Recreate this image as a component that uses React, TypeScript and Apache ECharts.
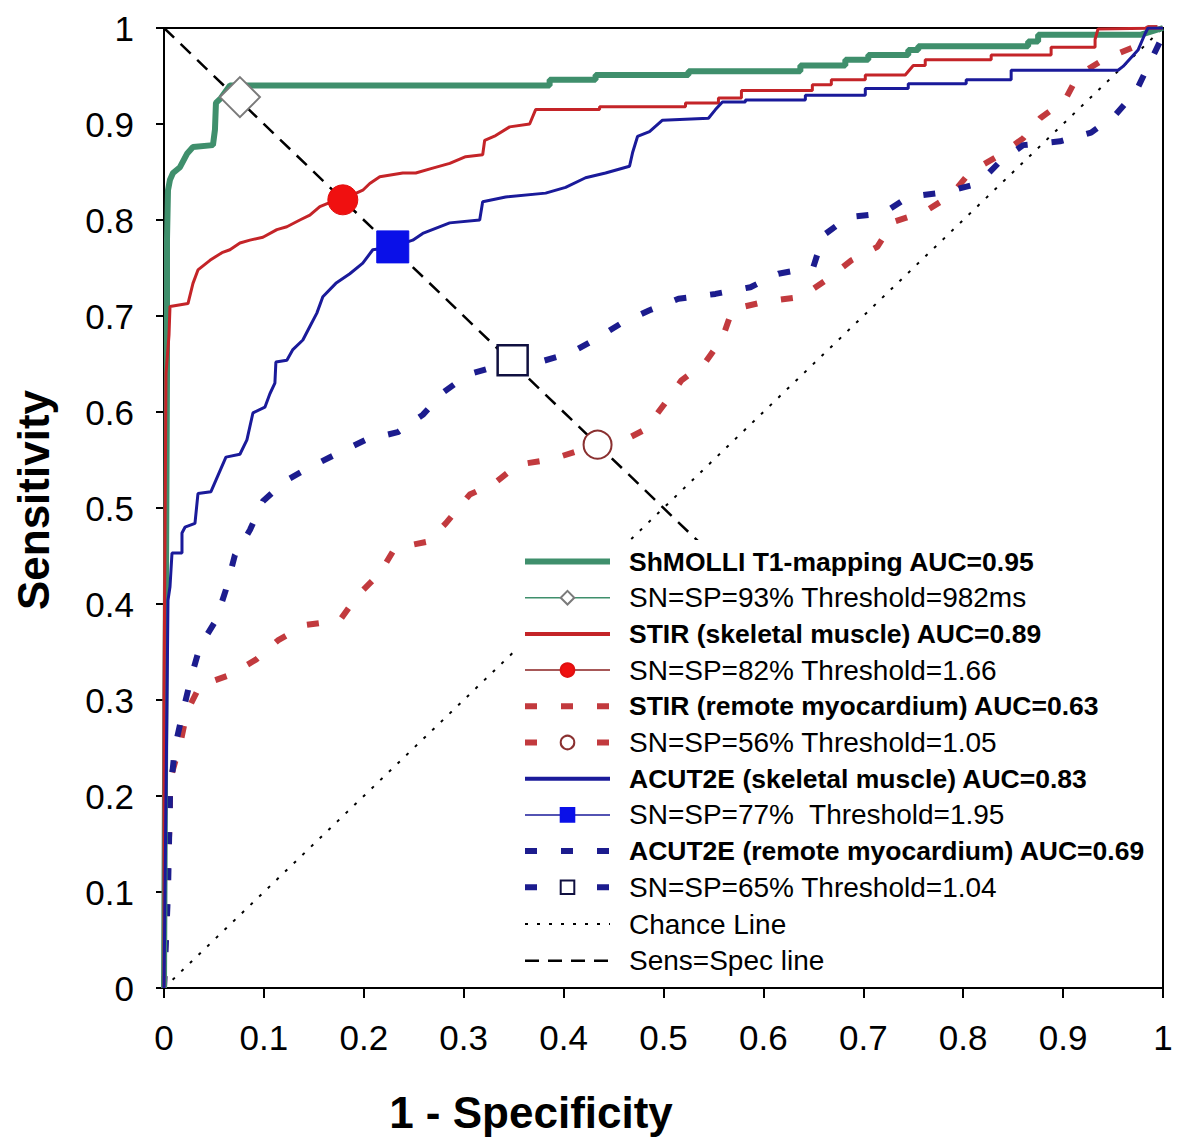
import React, { useEffect, useRef } from "react";
import * as echarts from "echarts";

// ---------- data ----------
const xTicks = [0, 0.1, 0.2, 0.3, 0.4, 0.5, 0.6, 0.7, 0.8, 0.9, 1];

const shmolliName = "ShMOLLI T1-mapping AUC=0.95";
const shmolliPts: number[][] = [
  [0, 0], [0.003, 0.64], [0.003, 0.706], [0.003, 0.78], [0.004, 0.831], [0.006, 0.842],
  [0.009, 0.849], [0.016, 0.855], [0.023, 0.869], [0.029, 0.876], [0.049, 0.878],
  [0.051, 0.894], [0.052, 0.922], [0.057, 0.927], [0.066, 0.94], [0.386, 0.94],
  [0.386, 0.946], [0.432, 0.946], [0.432, 0.951], [0.525, 0.951], [0.525, 0.955],
  [0.637, 0.955], [0.637, 0.961], [0.682, 0.961], [0.682, 0.967], [0.705, 0.967],
  [0.705, 0.972], [0.745, 0.972], [0.745, 0.977], [0.755, 0.977], [0.755, 0.981],
  [0.865, 0.981], [0.865, 0.986], [0.875, 0.986], [0.875, 0.993], [0.978, 0.993], [1, 1],
];
const shmolliCut = [[0.076, 0.928]];
const shmolliCutName = "SN=SP=93% Threshold=982ms";

const stirSkName = "STIR (skeletal muscle) AUC=0.89";
const stirSkPts: number[][] = [
  [0, 0], [0, 0.3], [0.002, 0.64], [0.005, 0.68], [0.006, 0.71], [0.024, 0.713],
  [0.029, 0.734], [0.034, 0.748], [0.046, 0.758], [0.058, 0.766], [0.066, 0.769],
  [0.076, 0.776], [0.086, 0.779], [0.099, 0.782], [0.113, 0.79], [0.123, 0.793],
  [0.136, 0.8], [0.146, 0.805], [0.156, 0.814], [0.17, 0.82], [0.18, 0.822],
  [0.199, 0.831], [0.206, 0.838], [0.216, 0.845], [0.239, 0.849], [0.252, 0.849],
  [0.269, 0.854], [0.286, 0.859], [0.302, 0.866], [0.319, 0.868], [0.321, 0.883],
  [0.332, 0.888], [0.346, 0.897], [0.366, 0.9], [0.372, 0.915], [0.436, 0.915],
  [0.436, 0.918], [0.522, 0.918], [0.522, 0.922], [0.555, 0.922], [0.555, 0.927],
  [0.578, 0.927], [0.578, 0.935], [0.649, 0.935], [0.649, 0.941], [0.668, 0.941],
  [0.668, 0.946], [0.702, 0.946], [0.702, 0.951], [0.742, 0.951], [0.75, 0.961],
  [0.762, 0.961], [0.762, 0.967], [0.828, 0.967], [0.828, 0.972], [0.888, 0.972],
  [0.888, 0.98], [0.932, 0.98], [0.932, 0.988], [0.935, 0.999], [1, 1],
];
const stirSkCut = [[0.179, 0.821]];
const stirSkCutName = "SN=SP=82% Threshold=1.66";

const stirRmName = "STIR (remote myocardium) AUC=0.63";
const stirRmPts: number[][] = [
  [0, 0], [0.004, 0.135], [0.006, 0.178], [0.006, 0.217], [0.016, 0.253], [0.023, 0.288],
  [0.036, 0.315], [0.066, 0.326], [0.092, 0.342], [0.114, 0.362], [0.141, 0.378],
  [0.176, 0.383], [0.194, 0.409], [0.216, 0.432], [0.231, 0.458], [0.264, 0.465],
  [0.282, 0.484], [0.306, 0.514], [0.331, 0.526], [0.354, 0.545], [0.389, 0.551],
  [0.434, 0.566], [0.456, 0.568], [0.482, 0.582], [0.5, 0.607], [0.518, 0.633],
  [0.542, 0.652], [0.559, 0.677], [0.569, 0.707], [0.602, 0.715], [0.638, 0.72],
  [0.665, 0.739], [0.688, 0.758], [0.714, 0.772], [0.73, 0.798], [0.762, 0.809],
  [0.788, 0.826], [0.807, 0.85], [0.834, 0.866], [0.86, 0.885], [0.877, 0.906],
  [0.902, 0.925], [0.915, 0.951], [0.942, 0.968], [0.973, 0.981], [0.985, 1], [1, 1],
];
const stirRmCut = [[0.434, 0.566]];
const stirRmCutName = "SN=SP=56% Threshold=1.05";

const acutSkName = "ACUT2E (skeletal muscle) AUC=0.83";
const acutSkPts: number[][] = [
  [0, 0], [0.003, 0.3], [0.004, 0.404], [0.006, 0.418], [0.008, 0.453], [0.018, 0.453],
  [0.018, 0.474], [0.021, 0.48], [0.031, 0.484], [0.034, 0.515], [0.047, 0.517],
  [0.052, 0.529], [0.062, 0.553], [0.076, 0.556], [0.083, 0.571], [0.089, 0.599],
  [0.101, 0.605], [0.106, 0.619], [0.111, 0.63], [0.112, 0.652], [0.123, 0.654],
  [0.129, 0.665], [0.139, 0.675], [0.146, 0.689], [0.153, 0.703], [0.159, 0.72],
  [0.172, 0.734], [0.186, 0.744], [0.199, 0.755], [0.209, 0.769], [0.229, 0.772],
  [0.249, 0.779], [0.259, 0.786], [0.286, 0.797], [0.316, 0.8], [0.319, 0.819],
  [0.342, 0.824], [0.382, 0.828], [0.402, 0.834], [0.422, 0.844], [0.442, 0.849],
  [0.466, 0.856], [0.469, 0.87], [0.474, 0.887], [0.486, 0.892], [0.499, 0.904],
  [0.545, 0.906], [0.552, 0.915], [0.559, 0.923], [0.582, 0.923], [0.582, 0.925],
  [0.642, 0.925], [0.642, 0.93], [0.702, 0.93], [0.702, 0.937], [0.745, 0.937],
  [0.745, 0.942], [0.803, 0.942], [0.803, 0.946], [0.848, 0.946], [0.848, 0.956],
  [0.955, 0.956], [0.96, 0.96], [0.975, 0.977], [0.982, 0.994], [0.985, 1], [1, 1],
];
const acutSkCut = [[0.229, 0.772]];
const acutSkCutName = "SN=SP=77%  Threshold=1.95";

const acutRmName = "ACUT2E (remote myocardium) AUC=0.69";
const acutRmPts: number[][] = [
  [0, 0], [0.004, 0.1], [0.006, 0.2], [0.011, 0.251], [0.019, 0.288], [0.027, 0.323],
  [0.036, 0.356], [0.052, 0.383], [0.062, 0.415], [0.071, 0.451], [0.086, 0.477],
  [0.099, 0.507], [0.121, 0.528], [0.147, 0.543], [0.174, 0.557], [0.202, 0.571],
  [0.234, 0.579], [0.259, 0.597], [0.279, 0.62], [0.304, 0.639], [0.331, 0.647],
  [0.349, 0.652], [0.372, 0.651], [0.406, 0.661], [0.432, 0.676], [0.457, 0.692],
  [0.486, 0.706], [0.515, 0.718], [0.552, 0.723], [0.587, 0.73], [0.615, 0.744],
  [0.65, 0.751], [0.66, 0.784], [0.685, 0.803], [0.72, 0.807], [0.745, 0.824],
  [0.782, 0.829], [0.815, 0.838], [0.837, 0.861], [0.86, 0.878], [0.897, 0.882],
  [0.928, 0.891], [0.952, 0.909], [0.973, 0.934], [0.985, 0.96], [0.998, 0.988], [1, 1],
];
const acutRmCut = [[0.349, 0.654]];
const acutRmCutName = "SN=SP=65% Threshold=1.04";

const chanceName = "Chance Line";
const chancePts = [[0, 0], [1, 1]];
const sensSpecName = "Sens=Spec line";
const sensSpecPts = [[0, 1], [0.62, 0.38]];

const boldNames = [shmolliName, stirSkName, stirRmName, acutSkName, acutRmName];
const legendOrder = [
  shmolliName, shmolliCutName, stirSkName, stirSkCutName, stirRmName, stirRmCutName,
  acutSkName, acutSkCutName, acutRmName, acutRmCutName, chanceName, sensSpecName,
];
// names whose legend sample is a plain line (no marker)
const lineOnlyNames = [shmolliName, stirSkName, stirRmName, acutSkName, acutRmName, chanceName, sensSpecName];

const FONT = "'Liberation Sans', Arial, Helvetica, sans-serif";

export default function App() {
  const ref = useRef<HTMLDivElement>(null);

  useEffect(() => {
    if (!ref.current) return;
    const chart = echarts.init(ref.current, undefined, { renderer: "svg" });

    const GREEN = "#3f8f6c";
    const RED = "#c42428";
    const RED_D = "#c23a3e";
    const NAVY = "#1a1a9a";
    const NAVY_D = "#1c1c8e";

    const widths: Record<string, number> = {
      [shmolliName]: 6, [shmolliCutName]: 1.5, [stirSkName]: 4, [stirSkCutName]: 1.5,
      [stirRmName]: 6, [stirRmCutName]: 6, [acutSkName]: 4, [acutSkCutName]: 1.5,
      [acutRmName]: 6, [acutRmCutName]: 6, [chanceName]: 2, [sensSpecName]: 2.5,
    };

    const curve = (name: string, data: number[][], color: string, width: number, type: any, z = 3) => ({
      name, type: "line", data, symbol: "none", z,
      lineStyle: { color, width, type },
      itemStyle: { color },
      emphasis: { disabled: true },
      silent: true,
    });
    const cut = (name: string, data: number[][], lineColor: string, lineWidth: number, lineType: any,
      symbol: string, size: number, fill: string, border: string, bw: number) => ({
      name, type: "line", data, symbol, symbolSize: size, showSymbol: true, z: 10,
      lineStyle: { color: lineColor, width: lineWidth, type: lineType },
      itemStyle: { color: fill, borderColor: border, borderWidth: bw, opacity: 1 },
      emphasis: { disabled: true },
      silent: true,
    });

    const legendData = legendOrder.map((name) => {
      const item: any = { name, lineStyle: { width: widths[name] } };
      if (lineOnlyNames.includes(name)) {
        item.itemStyle = { color: "rgba(0,0,0,0)", borderColor: "rgba(0,0,0,0)", borderWidth: 0, opacity: 0 };
      }
      return item;
    });

    const option: any = {
      animation: false,
      backgroundColor: "#ffffff",
      textStyle: { fontFamily: FONT },
      grid: {
        left: 164, right: 37, top: 28, bottom: 154,
        show: true, borderColor: "#000", borderWidth: 2, backgroundColor: "transparent",
      },
      xAxis: {
        type: "value", min: 0, max: 1, interval: 0.1,
        axisLine: { show: true, onZero: false, lineStyle: { color: "#000", width: 2 } },
        axisTick: { show: true, length: 10, lineStyle: { color: "#000", width: 2 } },
        axisLabel: {
          color: "#000", fontSize: 35, fontFamily: FONT, margin: 32,
          formatter: (v: number) => String(Math.round(v * 10) / 10),
        },
        splitLine: { show: false },
      },
      yAxis: {
        type: "value", min: 0, max: 1, interval: 0.1,
        axisLine: { show: true, onZero: false, lineStyle: { color: "#000", width: 2 } },
        axisTick: { show: true, length: 8, lineStyle: { color: "#000", width: 2 } },
        axisLabel: {
          color: "#000", fontSize: 35, fontFamily: FONT, margin: 30,
          formatter: (v: number) => String(Math.round(v * 10) / 10),
        },
        splitLine: { show: false },
      },
      legend: {
        orient: "vertical",
        left: 516, top: 540,
        padding: [8, 12, 8, 6],
        backgroundColor: "#ffffff",
        itemWidth: 85, itemHeight: 17, itemGap: 8.7,
        selectedMode: false,
        data: legendData,
        formatter: (name: string) => (boldNames.includes(name) ? `{b|${name}}` : `{n|${name}}`),
        textStyle: {
          color: "#000",
          padding: [0, 0, 0, 14],
          rich: {
            b: { fontFamily: FONT, fontWeight: "bold", fontSize: 26.5, lineHeight: 26, color: "#000" },
            n: { fontFamily: FONT, fontSize: 28, lineHeight: 26, color: "#000" },
          },
        },
      },
      graphic: [
        {
          type: "text", x: 33, y: 500, rotation: Math.PI / 2, silent: true,
          style: {
            text: "Sensitivity", font: `bold 44px ${FONT}`, fill: "#000",
            align: "center", verticalAlign: "middle", textAlign: "center", textVerticalAlign: "middle",
          },
        },
        {
          type: "text", x: 531, y: 1112, silent: true,
          style: {
            text: "1 - Specificity", font: `bold 44px ${FONT}`, fill: "#000",
            align: "center", verticalAlign: "middle", textAlign: "center", textVerticalAlign: "middle",
          },
        },
      ],
      series: [
        curve(chanceName, chancePts, "#000", 2, [3, 9], 2),
        curve(sensSpecName, sensSpecPts, "#000", 2.5, [14, 9], 2),
        curve(stirRmName, stirRmPts, RED_D, 6, [12, 24], 3),
        curve(acutRmName, acutRmPts, NAVY_D, 6, [12, 24], 3),
        curve(shmolliName, shmolliPts, GREEN, 6, "solid", 4),
        curve(stirSkName, stirSkPts, RED, 3, "solid", 5),
        curve(acutSkName, acutSkPts, NAVY, 3, "solid", 6),
        cut(shmolliCutName, shmolliCut, GREEN, 1.5, "solid", "diamond", 40, "#ffffff", "#7a7a7a", 2),
        cut(stirSkCutName, stirSkCut, "#8a2020", 1.5, "solid", "circle", 30, "#f01010", "#e01010", 1),
        cut(stirRmCutName, stirRmCut, RED_D, 6, [12, 24], "circle", 28, "#ffffff", "#8a3030", 2),
        cut(acutSkCutName, acutSkCut, NAVY, 1.5, "solid", "rect", 32, "#0a10e8", "#0a10e8", 1),
        cut(acutRmCutName, acutRmCut, NAVY_D, 6, [12, 24], "rect", 30, "#ffffff", "#101040", 2.5),
      ],
    };

    chart.setOption(option);
    return () => chart.dispose();
  }, []);

  return (
    <div
      ref={ref}
      style={{ position: "absolute", left: 0, top: 0, width: 1200, height: 1142, background: "#fff" }}
    />
  );
}
